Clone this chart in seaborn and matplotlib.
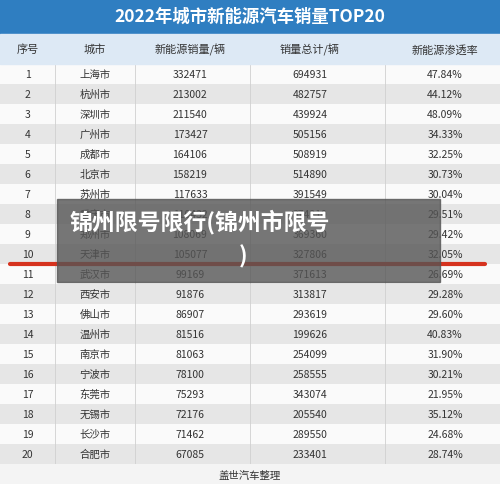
import matplotlib
matplotlib.use("Agg")
import matplotlib.pyplot as plt
import seaborn as sns
import numpy as np
from matplotlib.patches import Rectangle

sns.set_theme(style="white")
plt.rcParams['font.family'] = ['Noto Sans CJK SC', 'DejaVu Sans']

ranks = list(range(1, 21))
cities = ["上海市","杭州市","深圳市","广州市","成都市","北京市","苏州市","重庆市","郑州市","天津市",
          "武汉市","西安市","佛山市","温州市","南京市","宁波市","东莞市","无锡市","长沙市","合肥市"]
nev_sales = [332471,213002,211540,173427,164106,158219,117633,110432,108069,105077,
             99169,91876,86907,81516,81063,78100,75293,72176,71462,67085]
total_sales = [694931,482757,439924,505156,508919,514890,391549,374210,369360,327806,
               371613,313817,293619,199626,254099,258555,343074,205540,289550,233401]
penetration = ["47.84%","44.12%","48.09%","34.33%","32.25%","30.73%","30.04%","29.51%","29.42%","32.05%",
               "26.69%","29.28%","29.60%","40.83%","31.90%","30.21%","21.95%","35.12%","24.68%","28.74%"]
headers = ["序号","城市","新能源销量/辆","销量总计/辆","新能源渗透率"]
title = "2022年城市新能源汽车销量TOP20"

W, H = 500, 485
fig = plt.figure(figsize=(5, 4.85), dpi=100)
fig.patch.set_facecolor("#f4f4f4")

top_rows, bot_rows = 65, 465
ax = fig.add_axes([0, 1 - bot_rows / H, 1, (bot_rows - top_rows) / H])
stripe = np.array([[0 if r % 2 else 1] for r in ranks])
sns.heatmap(stripe, ax=ax, cmap=sns.color_palette(["#fafafa", "#e6e6e6"], as_cmap=True),
            cbar=False, xticklabels=False, yticklabels=False, linewidths=0)
ax.set_xlim(0, 1)
col_x = [0.055, 0.19, 0.38, 0.62, 0.89]
for i in range(20):
    y = i + 0.5
    vals = [str(ranks[i]), cities[i], str(nev_sales[i]), str(total_sales[i]), penetration[i]]
    for x, v in zip(col_x, vals):
        ax.text(x, y, v, ha="center", va="center", fontsize=7.5, color="#333333")
for x in [0.11, 0.27, 0.5, 0.77]:
    ax.axvline(x, color="#d0d0d0", lw=0.6)
ax.plot([0.02, 0.97], [10, 10], color="#d6321e", lw=3, solid_capstyle="round")

fig.patches.append(Rectangle((0, 1 - 35 / H), 1, 35 / H, transform=fig.transFigure, color="#2f7ec1", zorder=0))
fig.text(0.5, 1 - 17 / H, title, ha="center", va="center", color="white", fontsize=12.5, weight="bold")
fig.patches.append(Rectangle((0, 1 - 65 / H), 1, 30 / H, transform=fig.transFigure, color="#dde9f5", zorder=0))
for x, h in zip(col_x, headers):
    fig.text(x, 1 - 50 / H, h, ha="center", va="center", fontsize=8, color="#333333")
fig.text(0.5, 1 - 476 / H, "盖世汽车整理", ha="center", va="center", fontsize=7.5, color="#333333")

fig.patches.append(Rectangle((57 / W, 1 - 283 / H), 383 / W, 83 / H, transform=fig.transFigure,
                             color="#555555", alpha=0.8, zorder=5))
fig.text(70 / W, 1 - 222 / H, "锦州限号限行(锦州市限号", ha="left", va="center", fontsize=16.5,
         weight="bold", color="white", zorder=6)
fig.text(243 / W, 1 - 257 / H, ")", ha="center", va="center", fontsize=16.5,
         weight="bold", color="white", zorder=6)

fig.savefig("out.png", dpi=100, facecolor=fig.get_facecolor())
